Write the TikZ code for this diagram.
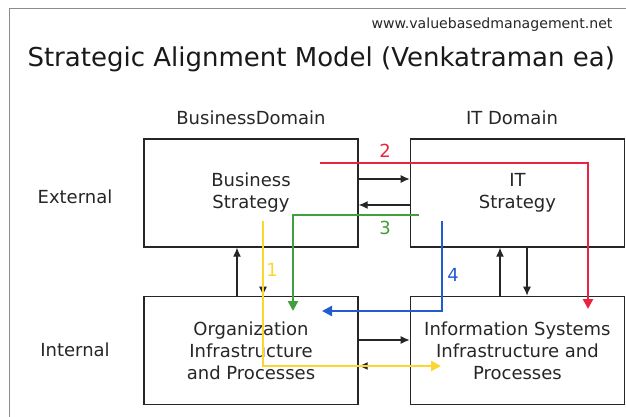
\documentclass[tikz,border=0pt]{standalone}
\usepackage{fontspec}
\setmainfont{DejaVu Sans}
\usetikzlibrary{positioning, arrows.meta}
\definecolor{redline}{RGB}{234,36,62}
\definecolor{greenline}{RGB}{66,160,58}
\definecolor{blueline}{RGB}{34,92,206}
\definecolor{yellowline}{RGB}{250,214,46}
\definecolor{boxtext}{RGB}{38,38,38}

\begin{document}
\begin{tikzpicture}[x=1pt, y=-1pt,
		block/.style={draw=black!85, line width=1.4pt, minimum width=214pt, minimum height=108pt,
			inner sep=0pt, align=center, text=boxtext, font=\fontsize{18}{22}\selectfont},
		side/.style={text=boxtext, font=\fontsize{18}{22}\selectfont},
		link/.style={line width=1.2pt, black!85, -{Latex[length=9pt,width=8pt]}},
		route/.style={line width=2.4pt, -{Triangle[length=10pt,width=10pt]}},
		tag/.style={font=\fontsize{18}{18}\selectfont}]
		\useasboundingbox (0,0) rectangle (626,417);
		\draw[black!45, line width=1pt] (9,417) -- (9,9) -- (626,9);

		% Headings
		\node[anchor=base east, text=boxtext, font=\fontsize{14.1}{16}\selectfont] (web) at (616,29) {www.valuebasedmanagement.net};
		\node[anchor=base west, text=black!90, font=\fontsize{26}{30}\selectfont] (title) at (24,67) {Strategic Alignment Model (Venkatraman ea)};
		\node[side] (busdom) at (251,118) {BusinessDomain};
		\node[side] (itdom) at (512,118) {IT Domain};
		\node[side] (ext) at (75,197) {External};
		\node[side] (int) at (75,350) {Internal};

		% Add the four domains
		\node[block] (bs) at (251,193) {Business\\Strategy};
		\node[block, right=51pt of bs] (it) {IT\\Strategy};
		\node[block, below=48pt of bs] (org) {Organization\\Infrastructure\\and Processes};
		\node[block, below=48pt of it] (is) {Information Systems\\Infrastructure and\\Processes};

		% Connect the domains with arrows
		\draw[link] (bs.east |- 0,179) -- (it.west |- 0,179);
		\draw[link] (it.west |- 0,205) -- (bs.east |- 0,205);
		\draw[link] (org.north -| 237,0) -- (bs.south -| 237,0);
		\draw[link] (bs.south -| 263,0) -- (org.north -| 263,0);
		\draw[link] (org.east |- 0,340) -- (is.west |- 0,340);
		\draw[link] (is.west |- 0,366) -- (org.east |- 0,366);
		\draw[link] (is.north -| 500,0) -- (it.south -| 500,0);
		\draw[link] (it.south -| 527,0) -- (is.north -| 527,0);

		% Alignment perspectives
		\coordinate (y0) at (263,221);
		\coordinate (y1) at (441,366);
		\coordinate (r0) at (320,163);
		\coordinate (r1) at (588,309);
		\coordinate (g0) at (419,215);
		\coordinate (g1) at (293,311);
		\coordinate (b0) at (442,221);
		\coordinate (b1) at (322,311);
		\draw[route, yellowline] (y0) |- (y1);
		\draw[route, redline] (r0) -| (r1);
		\draw[route, greenline] (g0) -| (g1);
		\draw[route, blueline] (b0) |- (b1);
		\node[tag, text=yellowline] (p1) at (272,270) {1};
		\node[tag, text=redline] (p2) at (385,151) {2};
		\node[tag, text=greenline] (p3) at (385,228) {3};
		\node[tag, text=blueline] (p4) at (453,275) {4};
	\end{tikzpicture}
\end{document}
